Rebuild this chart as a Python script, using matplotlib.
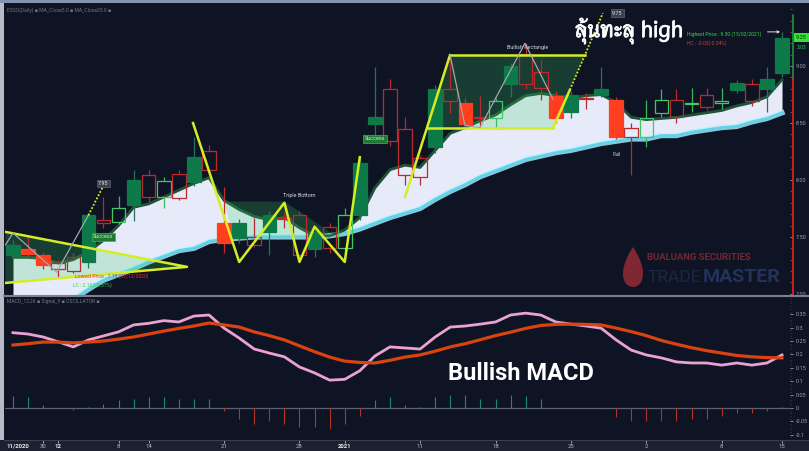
import numpy as np
import matplotlib
matplotlib.use("Agg")
import matplotlib.pyplot as plt
import matplotlib.transforms as mtransforms
import matplotlib.patheffects as pe
from matplotlib import font_manager as fm
from matplotlib.patches import Polygon, Rectangle
from matplotlib.lines import Line2D
from matplotlib.ticker import MultipleLocator

plt.rcParams['font.family'] = ['Roboto', 'DejaVu Sans']

# ---------------- data ----------------
dates = ["2020-11-26", "2020-11-27", "2020-11-30", "2020-12-01", "2020-12-02", "2020-12-03",
         "2020-12-04", "2020-12-08", "2020-12-09", "2020-12-14", "2020-12-15", "2020-12-16",
         "2020-12-17", "2020-12-18", "2020-12-21", "2020-12-22", "2020-12-23", "2020-12-24",
         "2020-12-25", "2020-12-28", "2020-12-29", "2020-12-30", "2021-01-04", "2021-01-05",
         "2021-01-06", "2021-01-07", "2021-01-08", "2021-01-11", "2021-01-12", "2021-01-13",
         "2021-01-14", "2021-01-15", "2021-01-18", "2021-01-19", "2021-01-20", "2021-01-21",
         "2021-01-22", "2021-01-25", "2021-01-26", "2021-01-27", "2021-01-28", "2021-01-29",
         "2021-02-01", "2021-02-02", "2021-02-03", "2021-02-04", "2021-02-05", "2021-02-08",
         "2021-02-09", "2021-02-10", "2021-02-11", "2021-02-15"]

open_ = [7.34, 7.35, 7.25, 7.27, 7.32, 7.28, 7.65, 7.75, 7.78, 8.04, 7.99, 8.05, 7.98, 8.25,
         7.45, 7.49, 7.50, 7.54, 7.67, 7.69, 7.39, 7.59, 7.69, 7.69, 8.49, 8.80, 8.45, 8.19,
         8.29, 8.80, 8.49, 8.55, 8.69, 8.84, 9.11, 8.95, 8.54, 8.60, 8.72, 8.75, 8.38, 8.46,
         8.54, 8.70, 8.70, 8.68, 8.75, 8.69, 8.79, 8.84, 8.80, 8.94]
high = [7.47, 7.50, 7.37, 7.30, 7.36, 7.71, 7.85, 7.86, 8.09, 8.09, 8.03, 8.09, 8.38, 8.31,
        7.94, 7.66, 7.67, 7.73, 7.72, 7.73, 7.56, 7.62, 7.75, 8.20, 8.99, 8.89, 8.55, 8.22,
        8.83, 9.10, 8.72, 8.74, 8.72, 9.03, 9.20, 9.05, 8.78, 8.78, 8.76, 8.99, 8.73, 8.50,
        8.70, 8.80, 8.80, 8.81, 8.81, 8.81, 8.88, 8.89, 8.99, 9.30]
low = [7.32, 7.33, 7.22, 7.15, 7.18, 7.23, 7.58, 7.61, 7.64, 7.81, 7.75, 7.82, 7.95, 8.05,
       7.36, 7.45, 7.41, 7.34, 7.58, 7.30, 7.32, 7.36, 7.28, 7.65, 8.35, 8.30, 7.96, 7.96,
       8.24, 8.59, 8.45, 8.46, 8.45, 8.73, 8.80, 8.70, 8.50, 8.54, 8.62, 8.73, 8.36, 8.04,
       8.29, 8.55, 8.50, 8.60, 8.61, 8.62, 8.76, 8.65, 8.60, 8.90]
close = [7.43, 7.39, 7.34, 7.22, 7.20, 7.69, 7.62, 7.63, 8.00, 7.85, 7.85, 7.84, 8.20, 8.09,
         7.62, 7.62, 7.43, 7.69, 7.66, 7.34, 7.54, 7.40, 7.40, 8.15, 8.55, 8.34, 8.04, 8.03,
         8.80, 8.69, 8.68, 8.54, 8.54, 9.00, 8.84, 8.81, 8.74, 8.75, 8.71, 8.80, 8.70, 8.38,
         8.38, 8.59, 8.55, 8.67, 8.64, 8.68, 8.85, 8.69, 8.89, 9.25]

ma5 = [7.32, 7.32, 7.31, 7.27, 7.30, 7.37, 7.47, 7.60, 7.76, 7.79, 7.85, 7.91, 7.97, 8.02,
       7.82, 7.74, 7.68, 7.65, 7.67, 7.58, 7.51, 7.51, 7.56, 7.67, 7.93, 8.09, 8.13, 8.11,
       8.26, 8.41, 8.46, 8.52, 8.57, 8.66, 8.74, 8.76, 8.74, 8.72, 8.74, 8.75, 8.68, 8.55,
       8.53, 8.54, 8.55, 8.57, 8.59, 8.61, 8.65, 8.68, 8.73, 8.88]
ma25 = [6.56, 6.65, 6.75, 6.85, 6.95, 7.04, 7.12, 7.17, 7.22, 7.28, 7.33, 7.38, 7.40, 7.46,
        7.48, 7.49, 7.50, 7.50, 7.50, 7.50, 7.50, 7.51, 7.53, 7.57, 7.62, 7.67, 7.71, 7.75,
        7.83, 7.90, 7.96, 8.03, 8.08, 8.13, 8.18, 8.21, 8.24, 8.26, 8.29, 8.32, 8.34, 8.36,
        8.36, 8.39, 8.39, 8.42, 8.44, 8.46, 8.47, 8.51, 8.54, 8.59]

macd = [0.281, 0.276, 0.265, 0.247, 0.228, 0.254, 0.269, 0.284, 0.310, 0.316, 0.326, 0.321,
        0.343, 0.347, 0.298, 0.261, 0.220, 0.205, 0.191, 0.153, 0.131, 0.104, 0.107, 0.139,
        0.194, 0.228, 0.224, 0.220, 0.265, 0.302, 0.306, 0.313, 0.321, 0.347, 0.354, 0.347,
        0.321, 0.313, 0.306, 0.298, 0.254, 0.216, 0.198, 0.187, 0.172, 0.168, 0.168, 0.160,
        0.168, 0.160, 0.168, 0.198]
signal = [0.235, 0.240, 0.246, 0.246, 0.243, 0.246, 0.250, 0.257, 0.265, 0.276, 0.287, 0.297,
          0.306, 0.317, 0.310, 0.302, 0.284, 0.270, 0.254, 0.232, 0.210, 0.190, 0.175, 0.170,
          0.168, 0.178, 0.190, 0.198, 0.212, 0.228, 0.240, 0.255, 0.270, 0.283, 0.297, 0.308,
          0.312, 0.313, 0.312, 0.310, 0.298, 0.285, 0.270, 0.252, 0.238, 0.225, 0.214, 0.205,
          0.196, 0.191, 0.188, 0.187]
osc = [0.045, 0.040, 0.012, 0.0, -0.008, 0.004, 0.014, 0.028, 0.035, 0.040, 0.040, 0.035,
       0.035, 0.035, -0.010, -0.040, -0.060, -0.050, -0.060, -0.070, -0.070, -0.080, -0.060,
       -0.030, 0.030, 0.040, 0.010, 0.005, 0.040, 0.050, 0.050, 0.035, 0.035, 0.050, 0.045,
       0.035, 0.0, 0.0, 0.0, -0.005, -0.035, -0.050, -0.050, -0.050, -0.050, -0.040, -0.040,
       -0.030, -0.020, -0.020, -0.010, 0.005]

# chart patterns (candle index, price)
tri_x = [-0.5, 11.54, -0.5]
tri_y = [7.544, 7.237, 7.096]
tri_zig_x = [-0.5, 0.0, 2.9, 5.0]
tri_zig_y = [7.43, 7.535, 7.19, 7.69]
tri_target_x = [5.0, 6.0]
tri_target_y = [7.69, 7.95]
tri_target = "7.95"

tb_x = [11.94, 15.0, 18.0, 19.0, 20.0, 22.0, 23.0]
tb_y = [8.50, 7.28, 7.80, 7.28, 7.59, 7.28, 8.20]
tb_fill_x = [14.0, 18.0, 21.5, 14.6]
tb_fill_y = [7.81, 7.81, 7.50, 7.50]

rect_x = [27.45, 28.98, 37.93, 35.81]
rect_y = [8.456, 9.096, 9.096, 8.456]
rect_entry_x = [26.0, 28.98]
rect_entry_y = [7.85, 9.096]
rect_break_x = [35.81, 36.93]
rect_break_y = [8.456, 8.79]
rect_target_x = [36.93, 39.12]
rect_target_y = [8.79, 9.465]
rect_target = "9.75"
rect_zig_x = [28.98, 29.97, 30.97, 33.95, 35.81]
rect_zig_y = [9.10, 8.48, 8.46, 9.20, 8.71]

price_ticks = [7.0, 7.5, 8.0, 8.5, 9.0]
macd_ticks = [-0.1, -0.05, 0.0, 0.05, 0.1, 0.15, 0.2, 0.25, 0.3, 0.35]
tick_dates = ["2020-11-30", "2020-12-01", "2020-12-08", "2020-12-14", "2020-12-21",
              "2020-12-28", "2021-01-04", "2021-01-11", "2021-01-18", "2021-01-25",
              "2021-02-01", "2021-02-08", "2021-02-15"]
tick_labels = ["30", "12", "8", "14", "21", "28", "2021", "11", "18", "25", "2", "8", "15"]
last_pct_text = "3.03"

# ---------------- helpers ----------------
W, H = 809, 451
BG = '#0e1424'


def find_font(cp):
    try:
        from fontTools.ttLib import TTFont
    except Exception:
        return None
    found = []
    for f in fm.findSystemFonts():
        try:
            tt = TTFont(f, fontNumber=0, lazy=True)
            cm = tt.getBestCmap() or {}
            if cp in cm:
                found.append(f)
        except Exception:
            continue
    for f in found:
        if 'bold' in f.lower() and 'italic' not in f.lower():
            return f
    return found[0] if found else None


thai_path = find_font(0x0E25)
if thai_path:
    thai_fp = fm.FontProperties(fname=thai_path, size=16.5)
else:
    thai_fp = fm.FontProperties(family=['DejaVu Sans'], weight='bold', size=16)

fig = plt.figure(figsize=(W / 100, H / 100), dpi=100, facecolor=BG)


def fx(px):
    return px / W


def fy(py):
    return 1 - py / H


ax = fig.add_axes([fx(5), fy(295), (790 - 5) / W, (295 - 4) / H])
ax2 = fig.add_axes([fx(5), fy(440), (790 - 5) / W, (440 - 297) / H])
for a in (ax, ax2):
    a.set_facecolor(BG)
    for s in a.spines.values():
        s.set_visible(False)

o = np.array(open_)
h = np.array(high)
l = np.array(low)
c = np.array(close)
n = len(c)
x = np.arange(n)
ax.set_xlim(-0.53, n - 1 + 0.53)
ax2.set_xlim(-0.53, n - 1 + 0.53)
ax.set_ylim(6.99, 9.545)
ax2.set_ylim(-0.1194, 0.4142)

# ---------------- MA band ----------------
ax.fill_between(x, ma25, ma5, color='#e7eaf8', lw=0, zorder=1)
ax.plot(x, ma25, color='#b8f1fb', lw=3.8, zorder=1.4, alpha=0.8)
ax.plot(x, ma25, color='#5fd3ec', lw=2.0, zorder=1.5)
ax.plot(x, ma5, color='#1f5236', lw=2.0, zorder=1.5)

# ---------------- pattern fills ----------------
PAT = '#3ccf6b'
ax.add_patch(Polygon(np.c_[tri_x, tri_y], closed=True, fc=PAT, alpha=0.22, lw=0, zorder=2))
ax.add_patch(Polygon(np.c_[tb_fill_x, tb_fill_y], closed=True, fc=PAT, alpha=0.22, lw=0, zorder=2))
ax.add_patch(Polygon(np.c_[rect_x, rect_y], closed=True, fc=PAT, alpha=0.22, lw=0, zorder=2))

# ---------------- candles ----------------
prev = np.r_[-np.inf, c[:-1]]
rising = c >= prev
filled = c > o
lo_b = np.minimum(o, c)
hi_b = np.maximum(o, c)
hgt = np.maximum(hi_b - lo_b, 0.006)
faces, edges, wicks = [], [], []
for f, r in zip(filled, rising):
    if f and r:
        faces.append('#0d7848'); edges.append('#0d7848'); wicks.append('#2a6e5e')
    elif f:
        faces.append('#ff3d1f'); edges.append('#ff3d1f'); wicks.append('#c0302a')
    elif r:
        faces.append('none'); edges.append('#44c765'); wicks.append('#3cb85a')
    else:
        faces.append('none'); edges.append('#bd2a2e'); wicks.append('#b52a2e')
ax.vlines(x, hi_b, h, colors=wicks, lw=0.9, zorder=3)
ax.vlines(x, l, lo_b, colors=wicks, lw=0.9, zorder=3)
ax.bar(x, hgt, bottom=lo_b, width=0.9, color=faces, edgecolor=edges, lw=0.9, zorder=4)

# ---------------- pattern lines ----------------
YL = '#d4ee24'
GR = '#a3a7b0'
ax.plot(tri_x, tri_y, color=YL, lw=1.8, zorder=5)
ax.plot(tri_zig_x, tri_zig_y, color=GR, lw=0.9, zorder=5)
ax.plot(tri_target_x, tri_target_y, color=YL, lw=1.3, ls=(0, (1, 1)), zorder=5)
ax.plot(tb_x, tb_y, color=YL, lw=1.8, zorder=5)
ax.plot([rect_x[0], rect_x[3]], [rect_y[0], rect_y[3]], color=YL, lw=1.8, zorder=5)
ax.plot([rect_x[1], rect_x[2]], [rect_y[1], rect_y[2]], color=YL, lw=1.8, zorder=5)
ax.plot(rect_entry_x, rect_entry_y, color=YL, lw=1.8, zorder=5)
ax.plot(rect_break_x, rect_break_y, color=YL, lw=1.8, zorder=5)
ax.plot(rect_target_x, rect_target_y, color=YL, lw=1.3, ls=(0, (1, 1)), zorder=5)
ax.plot(rect_zig_x, rect_zig_y, color=GR, lw=0.9, zorder=5)

# ---------------- annotation texts ----------------
small = dict(fontsize=3.9, zorder=7)
box = dict(boxstyle='square,pad=0.25', fc='#3b414d', ec='#6c7380', lw=0.4)
ax.text(tri_target_x[-1], tri_target_y[-1] + 0.02, tri_target, color='#e0e4ea', ha='center',
        va='center', bbox=box, **small)
ax.text(rect_target_x[-1] + 0.95, rect_target_y[-1], rect_target, color='#e0e4ea', ha='center',
        va='center', bbox=box, **small)
sbox = dict(boxstyle='square,pad=0.3', fc='#1e7a32', ec='#3cba54', lw=0.5)
ax.text(6.0, 7.50, 'Success', color='#b8f5c0', ha='center', va='center', bbox=sbox, **small)
ax.text(24.0, 8.36, 'Success', color='#b8f5c0', ha='center', va='center', bbox=sbox, **small)
ax.text(40.05, 8.22, 'Fail', color='#c9cdd5', ha='center', va='center', **small)
ax.text(19.0, 7.86, 'Triple Bottom', color='#d5d8de', ha='center', va='center', **small)
ax.text(34.1, 9.16, 'Bullish Rectangle', color='#d5d8de', ha='center', va='center', **small)

imin = int(np.argmin(l))
imax = int(np.argmax(h))


def dmy(s):
    y, m, d = s.split('-')
    return f"{d}/{m}/{y}"


ax.text(4.1, 7.153, f"Lowest Price : {l[imin]:.2f} ({dmy(dates[imin])})", color='#e0362c',
        ha='left', va='center', fontsize=3.6, zorder=7)
ax.text(3.98, 7.079, f"LC : {c[-1] - l[imin]:.2f}({(c[-1] - l[imin]) / l[imin] * 100:.2f}%)",
        color='#3fcf52', ha='left', va='center', fontsize=3.6, zorder=7)
ax.text(44.7, 9.278, f"Highest Price : {h[imax]:.2f} ({dmy(dates[imax])})", color='#3fcf52',
        ha='left', va='center', fontsize=3.6, zorder=7)
ax.text(44.7, 9.20, f"HC : {c[-1] - h[imax]:.2f}({(c[-1] - h[imax]) / h[imax] * 100:.2f}%)",
        color='#e0362c', ha='left', va='center', fontsize=3.6, zorder=7)
ax.annotate('', xy=(imax + 0.05, h[imax]), xytext=(imax - 1.15, h[imax]),
            arrowprops=dict(arrowstyle='->', color='white', lw=0.6, mutation_scale=4), zorder=7)

ax.text(40.85, 9.254, 'ลุ้นทะลุ high', fontproperties=thai_fp, color='white',
        ha='center', va='baseline', zorder=8,
        path_effects=[pe.withStroke(linewidth=0.5, foreground='white')])
ax2.text(33.7, 0.129, 'Bullish MACD', color='white', fontsize=17, fontweight='bold',
         family=['Roboto', 'DejaVu Sans'], ha='center', va='center', zorder=8)

ax.text(0.003, 0.979, 'ESSO(Daily) \u25aa MA_Close5.0 \u25aa MA_Close25.0 \u25aa', transform=ax.transAxes,
        color='#6f7787', fontsize=3.6, ha='left', va='center', zorder=7)
ax2.text(0.003, 0.97, 'MACD_12,26 \u25aa Signal_9 \u25aa OSCILLATOR \u25aa', transform=ax2.transAxes,
         color='#6f7787', fontsize=3.6, ha='left', va='center', zorder=7)

# watermark
ax.text(fx(647), fy(260), 'BUALUANG SECURITIES', transform=fig.transFigure, color='#7b2431',
        fontsize=6.8, fontweight='bold', ha='left', va='baseline', zorder=0.5)
ax.text(fx(701), fy(282), 'TRADE', transform=fig.transFigure, color='#1c2744',
        fontsize=12.5, ha='right', va='baseline', zorder=0.5)
ax.text(fx(703), fy(282), 'MASTER', transform=fig.transFigure, color='#22325a',
        fontsize=14, fontweight='bold', ha='left', va='baseline', zorder=0.5)
t = np.linspace(0, 2 * np.pi, 80)
fl_x = 633 + 13 * np.sin(t) * np.sin(t / 2)
fl_y = 267 - 20 * np.cos(t)
ax.add_patch(Polygon(np.c_[fx(fl_x), fy(fl_y)], closed=True, transform=fig.transFigure,
                     fc='#7f2733', ec='none', zorder=0.5))

# ---------------- price axis ----------------
ax.set_xticks([])
ax.yaxis.tick_right()
ax.set_yticks(price_ticks)
ax.set_yticklabels([f"{v:.2f}" for v in price_ticks])
ax.yaxis.set_minor_locator(MultipleLocator(0.1))
ax.tick_params(axis='y', which='major', length=2.5, width=0.6, colors='#9aa0aa',
               labelsize=4.0, pad=1.5)
ax.tick_params(axis='y', which='minor', length=1.3, width=0.5, colors='#6a707a')
trans = mtransforms.blended_transform_factory(ax.transAxes, ax.transData)
ax.plot([1.004, 1.004], [c[-2], 9.45], transform=trans, color='#2a9a3e', lw=1.1, clip_on=False)
ax.plot([1.004, 1.004], [6.995, c[-2]], transform=trans, color='#d8231c', lw=1.3, clip_on=False)
ax.text(1.0075, c[-1], f"{c[-1]:.2f}", transform=trans, fontsize=4, color='#0a2a0a',
        ha='left', va='center', bbox=dict(boxstyle='square,pad=0.35', fc='#33e033', ec='none'),
        clip_on=False, zorder=8)
ax.text(1.009, c[-1] - 0.09, last_pct_text, transform=trans, fontsize=3.6, color='#2fcf4f',
        ha='left', va='center', clip_on=False, zorder=8)

# ---------------- MACD panel ----------------
oc = np.array(osc)
ax2.axhline(0, color='#5d6270', lw=0.9, zorder=1)
ax2.vlines(x, 0, oc, colors=np.where(oc >= 0, '#1c8c6c', '#b8321c'), lw=0.8, zorder=2)
ax2.plot(x, macd, color='#eaa2d4', lw=2.0, zorder=3)
ax2.plot(x, signal, color='#d9430f', lw=2.3, zorder=4)
ax2.yaxis.tick_right()
ax2.set_yticks(macd_ticks)
ax2.set_yticklabels([f"{round(v, 2):g}" for v in macd_ticks])
ax2.yaxis.set_minor_locator(MultipleLocator(0.01))
ax2.tick_params(axis='y', which='major', length=2.5, width=0.6, colors='#9aa0aa',
                labelsize=4.0, pad=1.5)
ax2.tick_params(axis='y', which='minor', length=1.0, width=0.4, colors='#5a606a')

tick_pos = [dates.index(d) for d in tick_dates]
ax2.set_xticks(tick_pos)
ax2.set_xticklabels(tick_labels)
ax2.tick_params(axis='x', length=2, width=0.6, colors='#b5b9c2', labelsize=4.3, pad=1.2)
for lab in ax2.get_xticklabels():
    if lab.get_text() in ('12', '2021'):
        lab.set_fontweight('bold')
        lab.set_color('#e6e8ee')
trans2 = mtransforms.blended_transform_factory(ax2.transData, ax2.transAxes)
ax2.text(-0.45, -0.042, '11/2020', transform=trans2, fontsize=4.3, fontweight='bold',
         color='#e6e8ee', ha='left', va='center', clip_on=False)

# ---------------- frame decorations ----------------
fig.patches.append(Rectangle((0, 0), 1, 11 / H, transform=fig.transFigure, fc='#1c2130',
                             ec='none', zorder=-1))
fig.patches.append(Rectangle((0, fy(3)), 1, 3 / H, transform=fig.transFigure, fc='#8294b0',
                             ec='none', zorder=-1))
fig.patches.append(Rectangle((0, fy(440)), fx(4), 437 / H, transform=fig.transFigure,
                             fc='#b6bbc5', ec='none', zorder=-1))
fig.add_artist(Line2D([fx(4), 1], [fy(296), fy(296)], color='#7b808a', lw=1.5))
fig.add_artist(Line2D([fx(4), 1], [fy(440), fy(440)], color='#3a3f4c', lw=0.8))

fig.savefig('out.png', dpi=100, facecolor=BG)
